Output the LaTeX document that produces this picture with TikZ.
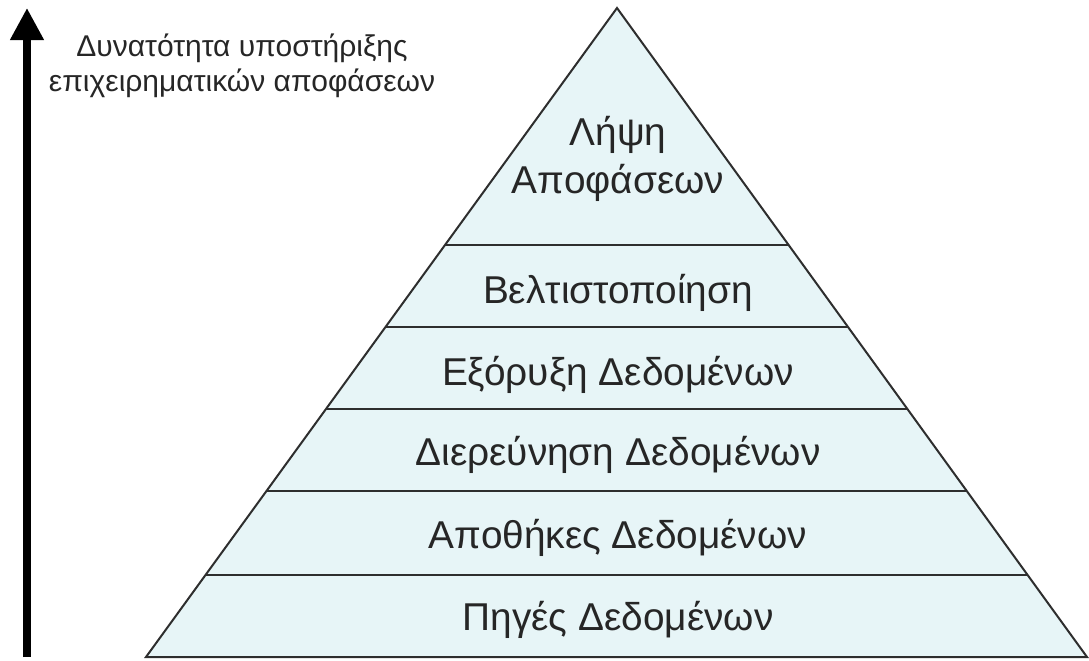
\documentclass[tikz,border=0pt]{standalone}
\usepackage{fontspec}
\setmainfont{Liberation Sans}
\usetikzlibrary{arrows.meta,calc}
\definecolor{layerfill}{HTML}{E7F5F7}
\definecolor{edgegray}{HTML}{2E2E2E}

\begin{document}
\begin{tikzpicture}[x=0.5pt,y=-0.5pt,
  layer/.style={font=\fontsize{19.4}{24}\selectfont,align=center,text=black!85},
  caption/.style={font=\fontsize{15}{17.5}\selectfont,align=center,text=black!85},
  rim/.style={draw=edgegray,line width=1pt}]
  \useasboundingbox (0,0) rectangle (1089,660);
  % pyramid corners
  \coordinate (apex) at (617,8);
  \coordinate (bl) at (146,657);
  \coordinate (br) at (1087,657);
  \filldraw[rim,fill=layerfill] (apex) -- (bl) -- (br) -- cycle;
  \foreach \y in {245,327,409,491,575}
    \draw[rim] ($(apex)!{(\y-8)/649}!(bl)$) -- ($(apex)!{(\y-8)/649}!(br)$);
  % layer labels
  \node[layer] (lipsi) at (618,159) {Λήψη\\Αποφάσεων};
  \node[layer] (belt) at (618,293) {Βελτιστοποίηση};
  \node[layer] (exor) at (618,375) {Εξόρυξη Δεδομένων};
  \node[layer] (dier) at (618,455) {Διερεύνηση Δεδομένων};
  \node[layer] (apoth) at (618,538) {Αποθήκες Δεδομένων};
  \node[layer] (pig) at (618,620) {Πηγές Δεδομένων};
  % axis
  \coordinate (arrbot) at (27,657);
  \coordinate (arrtop) at (27,8);
  \draw[-{Triangle[length=16pt,width=16pt]},line width=3.7pt] (arrbot) -- (arrtop);
  \node[caption] (dyn) at (242,66) {Δυνατότητα υποστήριξης\\επιχειρηματικών αποφάσεων};
\end{tikzpicture}
\end{document}
